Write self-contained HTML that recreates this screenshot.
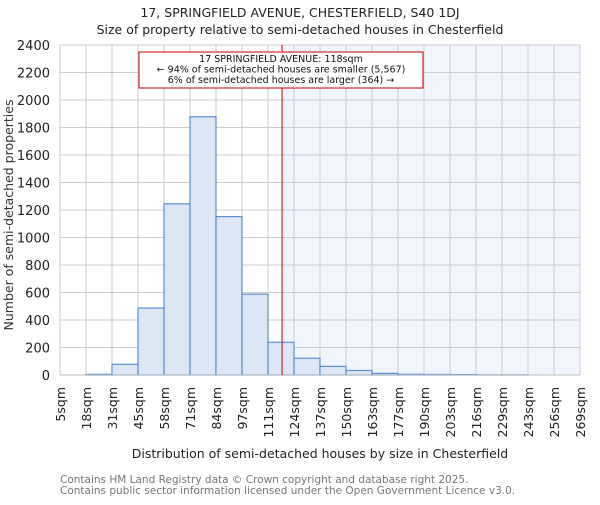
<!DOCTYPE html>
<html><head><meta charset="utf-8"><style>
body{margin:0;background:#fff;}
svg text{font-family:"DejaVu Sans","Liberation Sans",sans-serif;}
</style></head><body>
<svg id="chart" width="600" height="500" xmlns="http://www.w3.org/2000/svg">
<text x="300" y="17" text-anchor="middle" font-size="12.5" fill="#222">17, SPRINGFIELD AVENUE, CHESTERFIELD, S40 1DJ</text>
<text x="300" y="34" text-anchor="middle" font-size="12.5" fill="#222">Size of property relative to semi-detached houses in Chesterfield</text>
<g id="plot"></g>
<text x="320" y="458" text-anchor="middle" font-size="12.5" fill="#222">Distribution of semi-detached houses by size in Chesterfield</text>
<text transform="translate(13,215) rotate(-90)" text-anchor="middle" font-size="12.5" fill="#333">Number of semi-detached properties</text>
<text x="60" y="483" font-size="10.5" fill="#777">Contains HM Land Registry data © Crown copyright and database right 2025.</text>
<text x="60" y="494" font-size="10.5" fill="#777">Contains public sector information licensed under the Open Government Licence v3.0.</text>
</svg>
<script>
const binLabels=["5sqm","18sqm","31sqm","45sqm","58sqm","71sqm","84sqm","97sqm","111sqm","124sqm","137sqm","150sqm","163sqm","177sqm","190sqm","203sqm","216sqm","229sqm","243sqm","256sqm","269sqm"];
const counts=[0,5,78,487,1245,1878,1152,588,238,122,63,33,12,5,4,3,1,1,0,0];
const yTicks=[0,200,400,600,800,1000,1200,1400,1600,1800,2000,2200,2400];
const propertyBin=8.54;
const L=60,R=580,T=45,B=375,YMAX=2400;
const NS="http://www.w3.org/2000/svg";
const g=document.getElementById('plot');
const bw=(R-L)/counts.length;
const xs=i=>L+i*bw;
const ys=v=>B-v/YMAX*(B-T);
function mk(tag,a){const e=document.createElementNS(NS,tag);for(const k in a)e.setAttribute(k,a[k]);g.appendChild(e);return e;}
const px=xs(propertyBin);
let sh=mk('rect',{x:px,y:T,width:R-px,height:B-T,fill:'#f1f5fd'});


yTicks.forEach(t=>{
 let l=mk('line',{x1:L,x2:R,y1:ys(t),y2:ys(t),stroke:'#cccccc'});
 
 
 let tx=mk('text',{x:L-10,y:ys(t)+5,'text-anchor':'end','font-size':'13',fill:'#222'});
 tx.textContent=t;
 
 
});
binLabels.forEach((lab,i)=>{
 let l=mk('line',{x1:xs(i),x2:xs(i),y1:T,y2:B,stroke:'#cccccc'});
 
 
 let tx=mk('text',{transform:`translate(${xs(i)+5},${B+12}) rotate(-90)`,'text-anchor':'end','font-size':'12.5',fill:'#222'});
 tx.textContent=lab;
 
 
});
counts.forEach((c,i)=>{
 if(c<=0)return;
 let r=mk('rect',{x:xs(i),y:ys(c),width:bw,height:B-ys(c),fill:'#dce6f4',stroke:'#5b8fd6','stroke-width':1.2});
 
 
});
let ax=mk('line',{x1:L,x2:R,y1:B,y2:B,stroke:'#bbbbbb'});


let pl=mk('line',{x1:px,x2:px,y1:T,y2:B,stroke:'#cc0000','stroke-width':1});


let box=mk('rect',{x:139,y:52,width:284,height:36,fill:'#fff',stroke:'#cc0000','stroke-width':1});


["17 SPRINGFIELD AVENUE: 118sqm","← 94% of semi-detached houses are smaller (5,567)","6% of semi-detached houses are larger (364) →"].forEach((s,i)=>{
 let t=mk('text',{x:281,y:62+i*10.5,'text-anchor':'middle','font-size':'9.5',fill:'#111'});
 t.textContent=s;
 
 
});
</script>
</body></html>
